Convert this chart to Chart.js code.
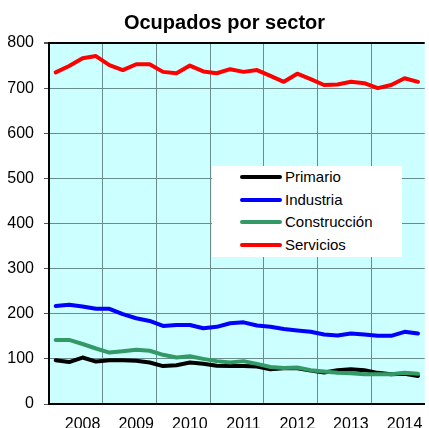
<!DOCTYPE html>
<html><head><meta charset="utf-8">
<script src="https://cdn.jsdelivr.net/npm/chart.js@4/dist/chart.umd.min.js"></script>
<style>
html,body{margin:0;padding:0;background:#fff;overflow:hidden}
#wrap{position:relative;width:429px;height:428px}
#title{position:absolute;left:0;top:11px;width:449px;text-align:center;font:bold 20px "Liberation Sans",Arial,sans-serif;color:#000}
#legend{position:absolute;left:212px;top:166px;width:190px;height:91px;background:#fff;font:15px "Liberation Sans",Arial,sans-serif;color:#000}
.row{position:absolute;left:28px;height:20px;line-height:20px;white-space:nowrap}
.sw{display:inline-block;width:42px;height:4px;border-radius:2px;vertical-align:middle;margin-right:3px;position:relative;top:-1px}
</style></head>
<body><div id="wrap"><canvas id="c" width="429" height="428"></canvas><div id="title">Ocupados por sector</div><div id="legend"></div></div>
<script>
const years = ["2008","2009","2010","2011","2012","2013","2014"];
const quarters = ["2007-III","2007-IV","2008-I","2008-II","2008-III","2008-IV","2009-I","2009-II","2009-III","2009-IV","2010-I","2010-II","2010-III","2010-IV","2011-I","2011-II","2011-III","2011-IV","2012-I","2012-II","2012-III","2012-IV","2013-I","2013-II","2013-III","2013-IV","2014-I","2014-II"];
const seriesNames = ["Primario","Industria","Construcción","Servicios"];
const seriesColors = ["#000000","#0000ff","#339966","#ff0000"];
const primario = [97,93,103,94,97,97,96,92,84,86,92,89,85,84,84,83,77,79,79,74,70,75,77,75,69,66,67,62];
const industria = [217,220,216,211,211,199,190,184,173,175,175,168,171,179,181,174,171,166,163,160,154,152,156,154,151,151,160,156];
const construccion = [142,142,133,123,114,117,120,118,109,103,106,100,95,92,95,89,82,80,81,75,72,69,68,66,66,66,69,67];
const servicios = [735,749,766,771,751,740,753,753,736,733,750,737,733,742,736,740,727,714,732,720,707,708,714,711,700,707,722,714];
const yTicks = [0,100,200,300,400,500,600,700,800];

const allData = [primario, industria, construccion, servicios];
const gridCol = "#6a8c8c";

const bgPlugin = {
  id: 'bg',
  beforeDraw(chart){
    const a = chart.chartArea, ctx = chart.ctx;
    ctx.save(); ctx.fillStyle = '#ccffff';
    ctx.fillRect(a.left, a.top, a.right - a.left, a.bottom - a.top);
    ctx.restore();
  }
};

new Chart(document.getElementById('c'), {
  type: 'line',
  data: {
    labels: quarters,
    datasets: allData.map((d, i) => ({
      label: seriesNames[i], data: d, borderColor: seriesColors[i], backgroundColor: seriesColors[i],
      borderWidth: 4, pointRadius: 0, tension: 0, fill: false, order: 4 - i,
      borderJoinStyle: 'round', borderCapStyle: 'round'
    }))
  },
  options: {
    responsive: false, animation: false, devicePixelRatio: 1,
    layout: { padding: { top: 43, right: -2, left: 0, bottom: 0 } },
    plugins: { legend: { display: false }, title: { display: false }, tooltip: { enabled: false } },
    scales: {
      x: {
        type: 'category', offset: true,
        grid: { offset: true, drawTicks: false,
          color: ctx => (ctx.index > 0 && ctx.index % 4 === 0) ? gridCol : 'rgba(0,0,0,0)', lineWidth: 1 },
        border: { color: '#000', width: 2 },
        ticks: { autoSkip: false, maxRotation: 0, padding: 11, color: '#000',
          font: { family: '"Liberation Sans", Arial, sans-serif', size: 16 },
          callback: (v, i) => (i % 4 === 2) ? years[(i - 2) / 4] : '' },
        afterFit: s => { s.height = 24; }
      },
      y: {
        min: 0, max: 800,
        afterBuildTicks: s => { s.ticks = yTicks.map(v => ({ value: v })); },
        grid: { color: ctx => ctx.tick && ctx.tick.value === 800 ? '#000' : gridCol,
          lineWidth: ctx => ctx.tick && ctx.tick.value === 800 ? 2 : 1,
          tickLength: 5, tickColor: '#555', drawTicks: true },
        border: { color: '#000', width: 2 },
        ticks: { padding: 10, color: '#000', font: { family: '"Liberation Sans", Arial, sans-serif', size: 16 } },
        afterFit: s => { s.width = 49; }
      }
    }
  },
  plugins: [bgPlugin]
});

const lg = document.getElementById('legend');
seriesNames.forEach((n, i) => {
  const r = document.createElement('div');
  r.className = 'row';
  r.style.top = (1 + i * 22.6) + 'px';
  r.innerHTML = '<span class="sw" style="background:' + seriesColors[i] + '"></span>' + n;
  lg.appendChild(r);
});
</script></body></html>
